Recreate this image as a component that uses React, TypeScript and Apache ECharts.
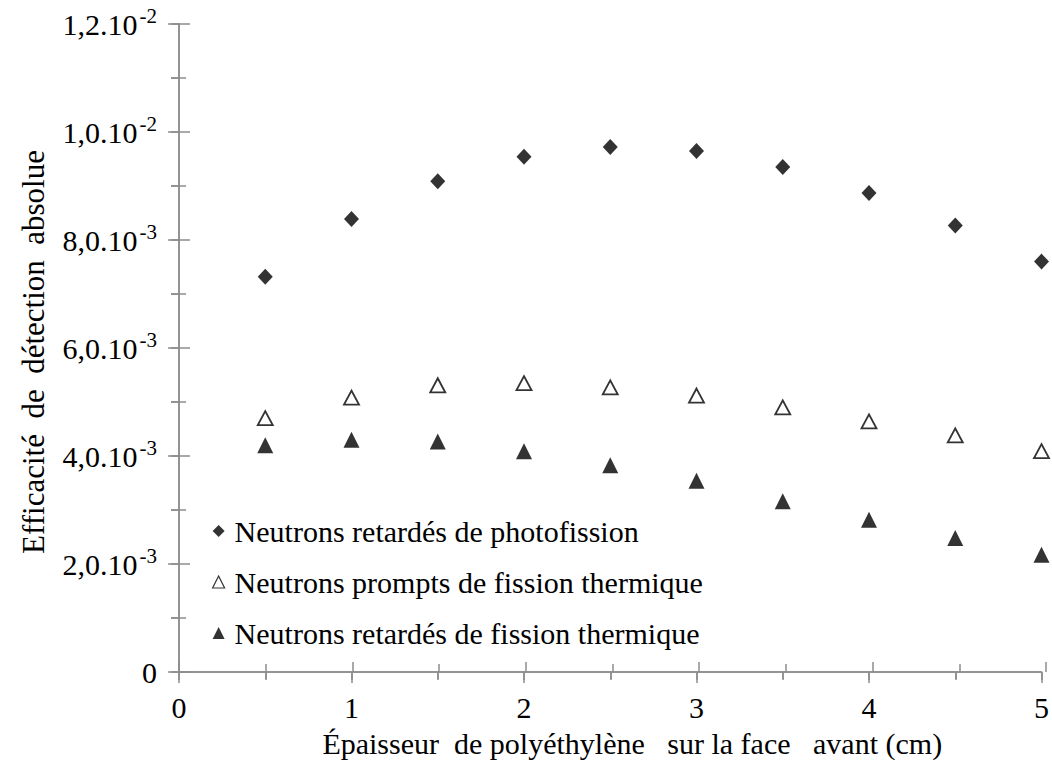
import React, { useEffect, useRef } from "react";
import * as echarts from "echarts";

const xValues = [0.5, 1, 1.5, 2, 2.5, 3, 3.5, 4, 4.5, 5];
const photofission = [7.32e-3, 8.39e-3, 9.09e-3, 9.54e-3, 9.72e-3, 9.65e-3, 9.35e-3, 8.87e-3, 8.27e-3, 7.6e-3];
const promptsThermique = [4.7e-3, 5.08e-3, 5.31e-3, 5.35e-3, 5.27e-3, 5.12e-3, 4.9e-3, 4.64e-3, 4.38e-3, 4.09e-3];
const retardesThermique = [4.2e-3, 4.3e-3, 4.27e-3, 4.09e-3, 3.83e-3, 3.54e-3, 3.16e-3, 2.82e-3, 2.48e-3, 2.17e-3];

const seriesNames = [
  "Neutrons retardés de photofission",
  "Neutrons prompts de fission thermique",
  "Neutrons retardés de fission thermique",
];

const yTickValues = [0, 0.002, 0.004, 0.006, 0.008, 0.01, 0.012];
const yTickMantissa = ["0", "2,0.10", "4,0.10", "6,0.10", "8,0.10", "1,0.10", "1,2.10"];
const yTickExponent = ["", "-3", "-3", "-3", "-3", "-2", "-2"];

const xTitle = "Épaisseur  de polyéthylène   sur la face   avant (cm)";
const yTitle = "Efficacité  de  détection  absolue";

const FONT = "Liberation Serif";
const AXIS_COLOR = "#8c8c8c";

function pairs(ys: number[]) {
  return xValues.map((x, i) => [x, ys[i]]);
}

function lineStyle() {
  return { color: AXIS_COLOR, width: 1.5 };
}

function baseAxis(extra: any) {
  return {
    type: "value",
    splitLine: { show: false },
    minorSplitLine: { show: false },
    ...extra,
  };
}

export default function App() {
  const ref = useRef<HTMLDivElement>(null);
  useEffect(() => {
    if (!ref.current) return;
    const chart = echarts.init(ref.current, null, { renderer: "svg" });
    const gridRect = { left: 179, right: 6, top: 24, bottom: 95 };
    const yLabelFormatter = (v: number) => {
      const idx = yTickValues.findIndex((t) => Math.abs(t - v) < 1e-9);
      if (idx < 0) return "";
      if (!yTickExponent[idx]) return "{m|" + yTickMantissa[idx] + "}";
      return "{m|" + yTickMantissa[idx] + "}{s|" + yTickExponent[idx] + "}";
    };
    const option: any = {
      animation: false,
      backgroundColor: "#ffffff",
      grid: [{ ...gridRect }, { ...gridRect }],
      legend: {
        orient: "vertical",
        left: 212,
        top: 516,
        padding: 0,
        itemWidth: 12,
        itemHeight: 12,
        itemGap: 21,
        textStyle: {
          fontFamily: FONT,
          fontSize: 30,
          color: "#000000",
          lineHeight: 30,
          padding: [0, 0, 0, 5],
        },
        data: [
          { name: seriesNames[0], icon: "diamond", itemStyle: { color: "#000000" } },
          {
            name: seriesNames[1],
            icon: "triangle",
            itemStyle: { color: "#ffffff", borderColor: "#000000", borderWidth: 1.2 },
          },
          { name: seriesNames[2], icon: "triangle", itemStyle: { color: "#000000" } },
        ],
      },
      xAxis: [
        baseAxis({
          gridIndex: 0,
          position: "bottom",
          min: 0,
          max: 5,
          interval: 1,
          axisLine: { show: true, lineStyle: lineStyle() },
          axisTick: { show: true, inside: false, length: 8, lineStyle: lineStyle() },
          minorTick: { show: true, splitNumber: 2, length: 8, lineStyle: lineStyle() },
          axisLabel: { fontFamily: FONT, fontSize: 30, color: "#000000", margin: 20 },
          name: xTitle,
          nameLocation: "middle",
          nameGap: 56,
          nameTextStyle: { fontFamily: FONT, fontSize: 30, color: "#000000", padding: [0, 0, 0, 44] },
        }),
        baseAxis({
          gridIndex: 0,
          position: "top",
          min: 0,
          max: 5,
          interval: 1,
          axisLine: { show: true, lineStyle: lineStyle() },
          axisTick: { show: true, inside: true, length: 11, lineStyle: lineStyle() },
          minorTick: { show: true, splitNumber: 2, length: 7, lineStyle: lineStyle() },
          axisLabel: { show: false },
        }),
        baseAxis({
          gridIndex: 1,
          position: "bottom",
          min: 0,
          max: 5,
          interval: 1,
          axisLine: { show: false },
          axisTick: { show: true, inside: true, length: 10, lineStyle: lineStyle() },
          minorTick: { show: true, splitNumber: 2, length: 8, lineStyle: lineStyle() },
          axisLabel: { show: false },
        }),
      ],
      yAxis: [
        baseAxis({
          gridIndex: 0,
          position: "left",
          min: 0,
          max: 0.012,
          interval: 0.002,
          axisLine: { show: true, lineStyle: lineStyle() },
          axisTick: { show: true, inside: false, length: 11, lineStyle: lineStyle() },
          minorTick: { show: true, splitNumber: 2, length: 8, lineStyle: lineStyle() },
          axisLabel: {
            margin: 22,
            fontFamily: FONT,
            fontSize: 30,
            color: "#000000",
            formatter: yLabelFormatter,
            rich: {
              m: { fontFamily: FONT, fontSize: 30, color: "#000000" },
              s: { fontFamily: FONT, fontSize: 21, color: "#000000", padding: [0, 0, 17, 2] },
            },
          },
          name: yTitle,
          nameLocation: "middle",
          nameRotate: 90,
          nameGap: 130,
          nameTextStyle: { fontFamily: FONT, fontSize: 31, color: "#000000", padding: [0, 8, 0, 0] },
        }),
        baseAxis({
          gridIndex: 0,
          position: "right",
          min: 0,
          max: 0.012,
          interval: 0.002,
          axisLine: { show: true, lineStyle: lineStyle() },
          axisTick: { show: true, inside: true, length: 8, lineStyle: lineStyle() },
          minorTick: { show: true, splitNumber: 2, length: 8, lineStyle: lineStyle() },
          axisLabel: { show: false },
        }),
        baseAxis({
          gridIndex: 1,
          position: "left",
          min: 0,
          max: 0.012,
          interval: 0.002,
          axisLine: { show: false },
          axisTick: { show: true, inside: true, length: 11, lineStyle: lineStyle() },
          minorTick: { show: true, splitNumber: 2, length: 7, lineStyle: lineStyle() },
          axisLabel: { show: false },
        }),
      ],
      series: [
        {
          name: seriesNames[0],
          type: "scatter",
          xAxisIndex: 0,
          yAxisIndex: 0,
          symbol: "diamond",
          symbolSize: [15, 16],
          itemStyle: { color: "#000000" },
          data: pairs(photofission),
          clip: false,
        },
        {
          name: seriesNames[1],
          type: "scatter",
          xAxisIndex: 0,
          yAxisIndex: 0,
          symbol: "triangle",
          symbolSize: [15, 14],
          itemStyle: { color: "#ffffff", borderColor: "#000000", borderWidth: 1.8 },
          data: pairs(promptsThermique),
          clip: false,
        },
        {
          name: seriesNames[2],
          type: "scatter",
          xAxisIndex: 0,
          yAxisIndex: 0,
          symbol: "triangle",
          symbolSize: [16, 16],
          itemStyle: { color: "#000000" },
          data: pairs(retardesThermique),
          clip: false,
        },
      ],
    };
    chart.setOption(option);
    return () => chart.dispose();
  }, []);
  return (
    <div
      ref={ref}
      style={{ width: 1052, height: 767, position: "absolute", left: 0, top: 0 }}
    />
  );
}
